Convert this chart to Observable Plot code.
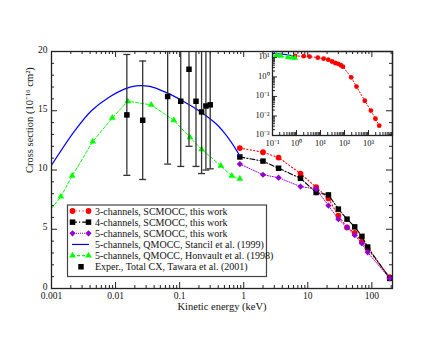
<!DOCTYPE html>
<html><head><meta charset="utf-8">
<script src="https://cdn.jsdelivr.net/npm/d3@7"></script>
<script src="https://cdn.jsdelivr.net/npm/@observablehq/plot@0.6"></script>
<style>
body{margin:0;background:#fff;}
#wrap{position:relative;width:440px;height:340px;}
#wrap svg{position:absolute;left:0;top:0;overflow:visible;}
</style></head><body><div id="wrap"></div>
<script>
// ---------- data ----------
const energySC = [0.87, 2, 3.5, 7.7, 13.5, 21, 30, 41, 54, 70, 86, 190];          // keV
const sigma3 = [11.85, 11.5, 11.05, 9.7, 8.55, 7.6, 6.15, 5.15, 4.7, 3.95, 3.35, 0.95];
const sigma4 = [11.1, 10.75, 10.15, 9.3, 8.1, 7.9, 6.7, 5.85, 5.2, 4.4, 3.5, 0.85];
const sigma5 = [10.5, 9.6, 9.35, 8.6, 8.4, 7.0, 5.85, 5.15, 4.5, 3.8, 3.05, 0.85];
const energy3Tail = [316, 700, 1260, 1950, 2800];
const sigma3Tail = [0.32, 0.06, 0.019, 0.0072, 0.0032];
const energyStancil = [0.001, 0.0023, 0.0042, 0.0077, 0.014, 0.021, 0.034, 0.061, 0.11, 0.2, 0.37, 0.47, 0.63, 0.87];
const sigmaStancil = [10.4, 13.3, 15.0, 16.1, 16.85, 17.1, 17.05, 16.55, 15.85, 15.0, 13.9, 13.3, 12.4, 11.2];
const energyHonvault = [0.0008, 0.0014, 0.0021, 0.0044, 0.0089, 0.0155, 0.036, 0.081, 0.145, 0.22, 0.44, 0.65, 0.87];
const sigmaHonvault = [6.1, 7.75, 9.5, 12.4, 14.4, 15.8, 15.5, 14.2, 12.75, 11.75, 10.35, 9.5, 9.25];
const energyExp = [0.015, 0.0265, 0.065, 0.104, 0.14, 0.18, 0.22, 0.257, 0.3];
const sigmaExp = [14.65, 14.2, 16.2, 15.8, 18.5, 15.8, 14.9, 15.4, 15.5];
const errExp = [5.1, 5.0, 5.7, 5.5, 6.5, 5.5, 5.2, 5.4, 5.4];

const xTickValues = [0.001, 0.01, 0.1, 1, 10, 100];
const xTickLabels = ["0.001", "0.01", "0.1", "1", "10", "100"];
const yTickValues = [0, 5, 10, 15, 20];
const insetXTicks = [0.1, 1, 10, 100, 1000];
const insetXLabels = ["10\u207B\u00B9", "10\u2070", "10\u00B9", "10\u00B2", "10\u00B3"];
const insetYTicks = [0.001, 0.01, 0.1, 1, 10];
const insetYLabels = ["10\u207B\u00B3", "10\u207B\u00B2", "10\u207B\u00B9", "10\u2070", "10\u00B9"];
const xAxisTitle = "Kinetic energy (keV)";
const yAxisTitle = "Cross section (10\u207B\u00B9\u2076 cm\u00B2)";
const legendLabels = [
  "3-channels, SCMOCC, this work",
  "4-channels, SCMOCC, this work",
  "5-channels, SCMOCC, this work",
  "5-channels, QMOCC, Stancil et al. (1999)",
  "5-channels, QMOCC, Honvault et al. (1998)",
  "Exper., Total CX, Tawara et al. (2001)"
];

// ---------- tables ----------
const rows = (xs, ys) => xs.map((x, i) => ({x, y: ys[i]}));
const red = rows(energySC, sigma3);
const black = rows(energySC, sigma4);
const purple = rows(energySC, sigma5);
const blue = rows(energyStancil, sigmaStancil);
const green = rows(energyHonvault, sigmaHonvault);
const exper = energyExp.map((x, i) => ({x, y: sigmaExp[i], e: errExp[i]}));
const redFull = rows(energySC.concat(energy3Tail), sigma3.concat(sigma3Tail));

// ---------- styles ----------
const W = 440, H = 340;
const FONT = "'Liberation Serif','Times New Roman',serif";
const RED = "#ff0000", BLK = "#000000", PUR = "#9400d3", BLU = "#0000ff", GRN = "#00ff00";
const mL = 51, mR = 48, mT = 51, mB = 52;
const innerW = W - mL - mR, innerH = H - mT - mB;
const minorLog = (lo, hi) => { const out = []; for (let e = -4; e <= 4; e++) for (let k = 2; k <= 9; k++) { const v = k * Math.pow(10, e); if (v > lo && v < hi) out.push(v); } return out; };
const xMinor = minorLog(0.001, 210);
const xMajorAll = [0.001, 0.01, 0.1, 1, 10, 100];
const yMinor = d3.range(1, 20).filter(v => v % 5 !== 0);
const capSymbol = {draw(ctx) { ctx.moveTo(-3.5, 0); ctx.lineTo(3.5, 0); }};
const tk = {stroke: "#222", strokeWidth: 1};

const main = Plot.plot({
  width: W, height: H,
  marginLeft: mL, marginRight: mR, marginTop: mT, marginBottom: mB,
  style: {fontFamily: FONT, fontSize: "10px", background: "transparent", color: "#111"},
  x: {type: "log", domain: [0.001, 210]},
  y: {domain: [0, 20]},
  marks: [
    Plot.tickX(xMinor, {x: d => d, insetTop: innerH - 3, ...tk}),
    Plot.tickX(xMajorAll, {x: d => d, insetTop: innerH - 6, ...tk}),
    Plot.tickX(xMinor, {x: d => d, insetBottom: innerH - 3, ...tk}),
    Plot.tickX(xMajorAll, {x: d => d, insetBottom: innerH - 6, ...tk}),
    Plot.tickY(yMinor, {y: d => d, insetRight: innerW - 3, ...tk}),
    Plot.tickY(yTickValues, {y: d => d, insetRight: innerW - 6, ...tk}),
    Plot.tickY(yMinor, {y: d => d, insetLeft: innerW - 3, ...tk}),
    Plot.tickY(yTickValues, {y: d => d, insetLeft: innerW - 6, ...tk}),
    Plot.axisX({ticks: xTickValues, tickFormat: d => xTickLabels[xTickValues.indexOf(d)], tickSize: 0, tickPadding: 4, label: null, fontSize: 9.5}),
    Plot.axisY({ticks: yTickValues, tickSize: 0, tickPadding: 4, label: null, fontSize: 9.5, dy: -2}),
    Plot.text([xAxisTitle], {frameAnchor: "bottom", dy: 21, text: d => d, fontSize: 10.5}),
    Plot.text([yAxisTitle], {frameAnchor: "left", dx: -22, dy: 3, rotate: -90, text: d => d, fontSize: 10.5}),
    // 3-channels
    Plot.line(red, {x: "x", y: "y", stroke: RED, strokeWidth: 1.1, strokeDasharray: "1.2,2.3", clip: true}),
    Plot.dot(red, {x: "x", y: "y", r: 2.9, fill: RED, clip: true}),
    // 4-channels
    Plot.line(black, {x: "x", y: "y", stroke: BLK, strokeWidth: 1.1, strokeDasharray: "5,2,1.2,2", clip: true}),
    Plot.dot(black, {x: "x", y: "y", r: 3.1, symbol: "square", fill: BLK, clip: true}),
    // 5-channels
    Plot.line(purple, {x: "x", y: "y", stroke: PUR, strokeWidth: 1, strokeDasharray: "1,1.5", clip: true}),
    Plot.dot(purple, {x: "x", y: "y", r: 2.8, symbol: "diamond2", fill: PUR, clip: true}),
    // Stancil
    Plot.line(blue, {x: "x", y: "y", stroke: BLU, strokeWidth: 1.2, curve: "catmull-rom", clip: true}),
    // Honvault
    Plot.line(green, {x: "x", y: "y", stroke: GRN, strokeWidth: 1, strokeDasharray: "3,2", clip: true}),
    Plot.dot(green, {x: "x", y: "y", r: 2.5, symbol: "triangle", fill: GRN, clip: true}),
    // Experiment
    Plot.ruleX(exper, {x: "x", y1: d => d.y - d.e, y2: d => d.y + d.e, stroke: "#333", strokeWidth: 1.3, clip: true}),
    Plot.dot(exper, {x: "x", y: d => d.y - d.e, symbol: capSymbol, stroke: "#333", strokeWidth: 1.3, fill: "none", clip: true}),
    Plot.dot(exper, {x: "x", y: d => d.y + d.e, symbol: capSymbol, stroke: "#333", strokeWidth: 1.3, fill: "none", clip: true}),
    Plot.dot(exper, {x: "x", y: "y", r: 3.1, symbol: "square", fill: BLK, clip: true}),
    Plot.frame({stroke: "#222", strokeWidth: 1.3})
  ]
});

// ---------- inset ----------
const iL = 272, iR = 48, iT = 51, iB = 205;
const iW = W - iL - iR, iH = H - iT - iB;
const ixMinor = minorLog(0.1, 10000);
const iyMinor = minorLog(0.001, 20);
const ixMajor = [0.1, 1, 10, 100, 1000, 10000];
const iyMajor = [0.001, 0.01, 0.1, 1, 10];
const inset = Plot.plot({
  width: W, height: H,
  marginLeft: iL, marginRight: iR, marginTop: iT, marginBottom: iB,
  style: {fontFamily: FONT, fontSize: "9px", background: "transparent", color: "#111"},
  x: {type: "log", domain: [0.1, 10000]},
  y: {type: "log", domain: [0.001, 20]},
  marks: [
    Plot.tickX(ixMinor, {x: d => d, insetTop: iH - 3, ...tk}),
    Plot.tickX(ixMajor, {x: d => d, insetTop: iH - 5, ...tk}),
    Plot.tickY(iyMinor, {y: d => d, insetRight: iW - 3, ...tk}),
    Plot.tickY(iyMajor, {y: d => d, insetRight: iW - 5, ...tk}),
    Plot.axisX({ticks: insetXTicks, tickFormat: d => insetXLabels[insetXTicks.indexOf(d)], tickSize: 0, tickPadding: 4.5, label: null, fontSize: 8.5}),
    Plot.axisY({ticks: insetYTicks, tickFormat: d => insetYLabels[insetYTicks.indexOf(d)], tickSize: 0, tickPadding: 3, label: null, fontSize: 8.5, dy: -1}),
    Plot.line(redFull, {x: "x", y: "y", stroke: RED, strokeWidth: 1, strokeDasharray: "1.2,2", clip: true}),
    Plot.dot(redFull, {x: "x", y: "y", r: 2.4, fill: RED, clip: true}),
    Plot.line(blue, {x: "x", y: "y", stroke: BLU, strokeWidth: 1.1, clip: true}),
    Plot.line(green, {x: "x", y: "y", stroke: GRN, strokeWidth: 1, strokeDasharray: "3,2", clip: true}),
    Plot.dot(green, {x: "x", y: "y", r: 2.3, symbol: "triangle", fill: GRN, clip: true}),
    Plot.frame({stroke: "#222", strokeWidth: 1.3})
  ]
});

const wrap = document.getElementById("wrap");
wrap.appendChild(main);
wrap.appendChild(inset);

// ---------- legend ----------
const leg = d3.select(wrap).append("svg").attr("width", W).attr("height", H);
const lx = 67.5, ly = 205, lw = 199, lh = 71.5;
leg.append("rect").attr("x", lx).attr("y", ly).attr("width", lw).attr("height", lh)
  .attr("fill", "#fff").attr("stroke", "#444").attr("stroke-width", 1.2);
const sym = (type, r) => d3.symbol().type(type).size(Math.PI * r * r)();
const legendStyles = [
  {color: RED, dash: "1.2,2.3", line: true, sym: sym(d3.symbolCircle, 2.9), ends: true},
  {color: BLK, dash: "5,2,1.2,2", line: true, sym: sym(d3.symbolSquare, 3.1), ends: true},
  {color: PUR, dash: "1,1", line: true, sym: sym(d3.symbolDiamond2, 2.8), ends: true},
  {color: BLU, dash: null, line: true, sym: null, ends: false},
  {color: GRN, dash: "3,2", line: true, sym: sym(d3.symbolTriangle, 2.5), ends: true},
  {color: BLK, dash: null, line: false, sym: sym(d3.symbolSquare, 3.1), ends: false}
];
legendLabels.forEach((label, i) => {
  const s = legendStyles[i];
  const y = 211 + i * 11.15;
  const g = leg.append("g");
  if (s.line) g.append("line").attr("x1", 72).attr("x2", 89).attr("y1", y).attr("y2", y)
    .attr("stroke", s.color).attr("stroke-width", i === 3 ? 1.2 : 1.1).attr("stroke-dasharray", s.dash);
  if (s.sym) {
    const xs = s.ends ? [72.5, 88.5] : [81];
    xs.forEach(x => g.append("path").attr("d", s.sym).attr("transform", `translate(${x},${y})`).attr("fill", s.color));
  }
  g.append("text").attr("x", 95).attr("y", y).attr("dy", "0.35em")
    .attr("font-family", FONT).attr("font-size", 10).attr("fill", "#111").text(label);
});
</script>
</body></html>
